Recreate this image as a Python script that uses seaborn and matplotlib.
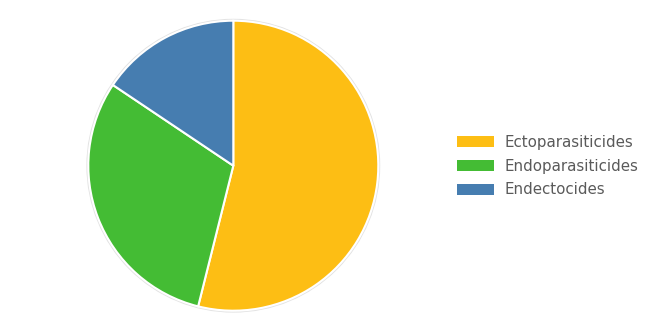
import matplotlib
matplotlib.use("Agg")
import matplotlib.pyplot as plt
import seaborn as sns
from matplotlib.patches import Circle

categories = ["Ectoparasiticides", "Endoparasiticides", "Endectocides"]
values = [53.9, 30.5, 15.6]
colors = ["#FDBE14", "#44BC34", "#467DB0"]

sns.set_theme(style="white")
plt.rcParams["font.family"] = ["DejaVu Sans"]

W, H = 668, 334
fig = plt.figure(figsize=(W / 100, H / 100), dpi=100)
fig.patch.set_facecolor("white")

cx, cy, r = 233.3, 165.7, 145
ax = fig.add_axes([(cx - r) / W, (H - cy - r) / H, 2 * r / W, 2 * r / H])
ax.add_patch(Circle((0, 0), 1.006, facecolor="none", edgecolor="#e2e2e2",
                    linewidth=1.5, zorder=0, clip_on=False))
wedges, _ = ax.pie(values, colors=colors, startangle=90, counterclock=False,
                   radius=1, wedgeprops=dict(edgecolor="white", linewidth=1.5, clip_on=False),
                   frame=False)
ax.set_xlim(-1, 1)
ax.set_ylim(-1, 1)
ax.set_aspect("equal")
ax.axis("off")

fs = 10.8
em = fs * 100 / 72
leg = fig.legend(wedges, categories, loc="center left",
                 bbox_to_anchor=(457 / W, 1 - 166 / H), bbox_transform=fig.transFigure,
                 frameon=False, fontsize=fs, borderpad=0, borderaxespad=0,
                 handlelength=37 / em, handleheight=11 / em,
                 handletextpad=11 / em, labelspacing=(24 - em) / em)
for t in leg.get_texts():
    t.set_color("#5a5a5a")
for h in leg.legend_handles:
    h.set_linewidth(0)

fig.savefig("out.png", dpi=100)
